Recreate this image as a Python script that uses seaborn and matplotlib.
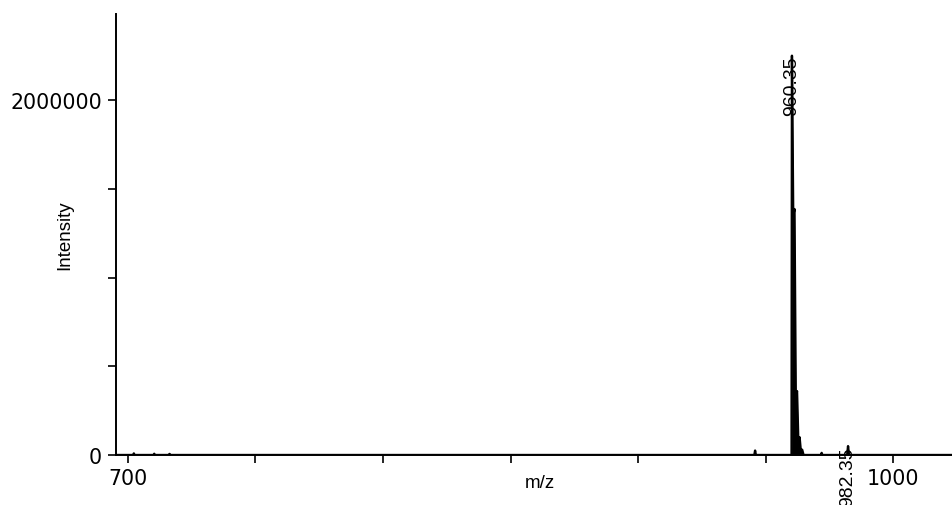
import numpy as np
import matplotlib
matplotlib.use("Agg")
import matplotlib.pyplot as plt
import seaborn as sns

# profile spectrum (m/z, intensity)
mz = [695.5, 702.0, 702.3, 702.6, 710.0, 710.3, 710.6, 716.0, 716.3, 716.6,
      945.6, 945.9, 946.2, 960.2, 960.35, 960.85, 961.35, 961.85, 962.35,
      962.85, 963.35, 963.85, 964.35, 964.9, 971.7, 972.0, 972.3,
      982.0, 982.35, 982.7, 1023.5]
intensity = [0, 0, 9000, 0, 0, 7000, 0, 0, 6000, 0,
             0, 25000, 0, 0, 2250000, 1350000, 1386000, 330000, 360000,
             80000, 100000, 20000, 30000, 0, 0, 12000, 0,
             0, 50000, 0, 0]

peak_labels = ["960.35", "982.35"]
peak_mz = [960.35, 982.35]
peak_int = [2250000, 50000]

x_ticks = [700, 750, 800, 850, 900, 950, 1000]
x_ticklabels = ["700", "", "", "", "", "", "1000"]
y_ticks = [0, 500000, 1000000, 1500000, 2000000]
y_ticklabels = ["0", "", "", "", "2000000"]

sns.set_style("ticks")
plt.rcParams["font.family"] = ["Liberation Sans", "DejaVu Sans"]
plt.rcParams["text.color"] = "black"
plt.rcParams["xtick.color"] = "black"
plt.rcParams["ytick.color"] = "black"

fig = plt.figure(figsize=(9.53, 5.06), dpi=100)
ax = fig.add_axes([0.1217, 0.0988, 0.8783, 0.8712])

sns.lineplot(x=mz, y=intensity, estimator=None, sort=False, color="black",
             linewidth=1.7, ax=ax)
# profile peaks look solid in the original
ax.fill_between(mz, intensity, color="black", linewidth=0)

for lab, px, py in zip(peak_labels, peak_mz, peak_int):
    ax.text(px, py, lab, rotation=90, ha="center", va="top", fontsize=14,
            color="black", clip_on=False)

ax.set_xlim(695.3, 1023.5)
ax.set_ylim(0, 2484000)
ax.set_xticks(x_ticks)
ax.set_xticklabels(x_ticklabels, fontsize=14.8, family="DejaVu Sans")
ax.set_yticks(y_ticks)
ax.set_yticklabels(y_ticklabels, fontsize=14.8, family="DejaVu Sans")
ax.tick_params(axis="both", direction="out", length=6, width=1.2, color="black")
ax.tick_params(axis="x", pad=3)
ax.tick_params(axis="y", pad=4)
ax.set_xlabel("m/z", fontsize=13.5, color="black")
ax.set_ylabel("Intensity", fontsize=13.5, color="black")
ax.xaxis.set_label_coords(0.5066, -0.062)
ax.yaxis.set_label_coords(-0.061, 0.5)
ax.xaxis.label.set_va("center")
ax.yaxis.label.set_va("center")
ax.spines["top"].set_visible(False)
ax.spines["right"].set_visible(False)
for s in ["left", "bottom"]:
    ax.spines[s].set_linewidth(1.4)
    ax.spines[s].set_color("black")

fig.savefig("out.png", dpi=100)
